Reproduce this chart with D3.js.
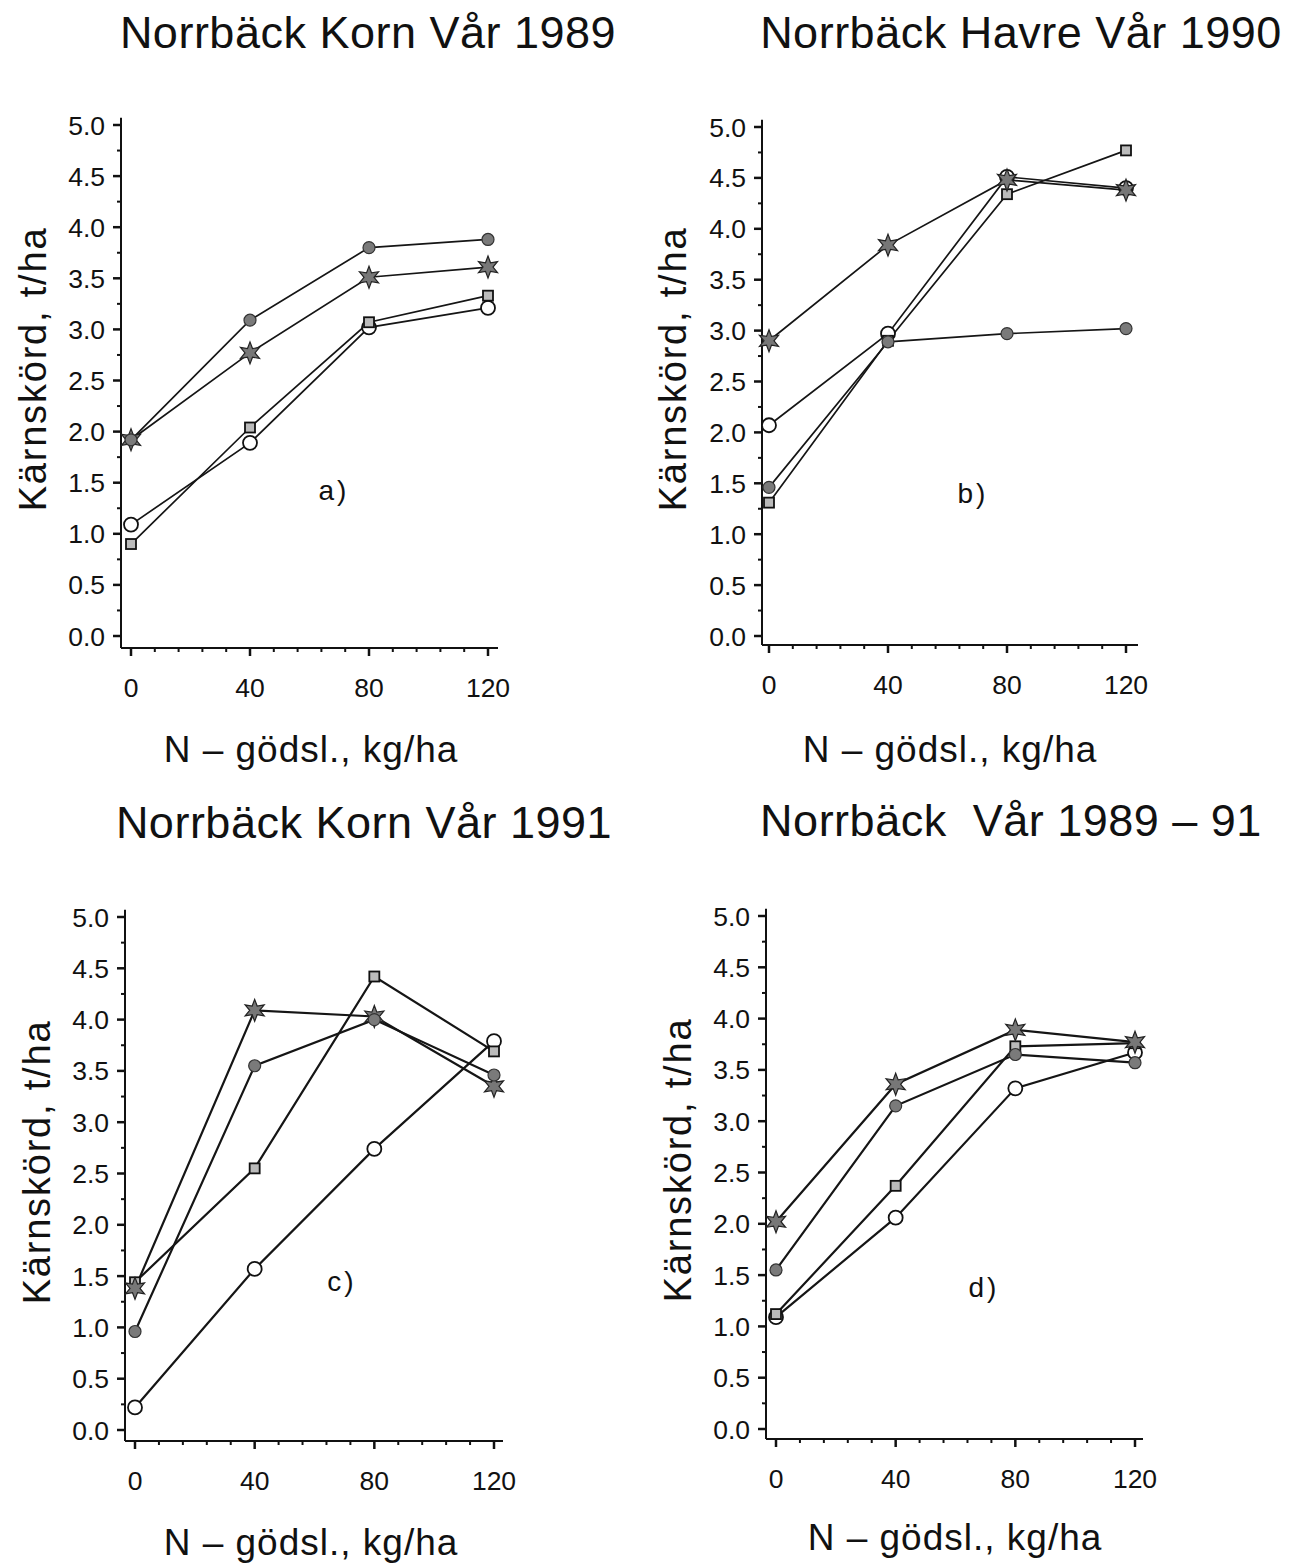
<!DOCTYPE html>
<html>
<head>
<meta charset="utf-8">
<title>Norrbäck kärnskörd</title>
<script src="https://cdn.jsdelivr.net/npm/d3@7"></script>
<style>
  * { margin: 0; padding: 0; }
  body { background: #fff; }
  text { font-family: "Liberation Sans", Arial, sans-serif; fill: #111; white-space: pre; }
</style>
</head>
<body>
<div id="chart"></div>
<script>
// N-giva (kg/ha)
var xValues = [0, 40, 80, 120];
var yTicks = [0, 0.5, 1, 1.5, 2, 2.5, 3, 3.5, 4, 4.5, 5];
var titles = ["Norrbäck Korn Vår 1989", "Norrbäck Havre Vår 1990",
              "Norrbäck Korn Vår 1991", "Norrbäck  Vår 1989 – 91"];
var letters = ["a)", "b)", "c)", "d)"];

// kärnskörd t/ha, ordning: fylld cirkel, stjärna, kvadrat, öppen cirkel
var aFilled = [1.92, 3.09, 3.80, 3.88];
var aStar   = [1.92, 2.77, 3.51, 3.61];
var aSquare = [0.90, 2.04, 3.07, 3.33];
var aOpen   = [1.09, 1.89, 3.02, 3.21];

var bFilled = [1.46, 2.89, 2.97, 3.02];
var bStar   = [2.90, 3.84, 4.48, 4.38];
var bSquare = [1.31, 2.90, 4.34, 4.77];
var bOpen   = [2.07, 2.97, 4.51, 4.40];

var cFilled = [0.96, 3.55, 4.00, 3.46];
var cStar   = [1.38, 4.09, 4.03, 3.35];
var cSquare = [1.44, 2.55, 4.42, 3.69];
var cOpen   = [0.22, 1.57, 2.74, 3.79];

var dFilled = [1.55, 3.15, 3.65, 3.57];
var dStar   = [2.02, 3.36, 3.89, 3.77];
var dSquare = [1.12, 2.37, 3.73, 3.76];
var dOpen   = [1.09, 2.06, 3.32, 3.67];

var panelData = [
  {filled: aFilled, star: aStar, square: aSquare, open: aOpen},
  {filled: bFilled, star: bStar, square: bSquare, open: bOpen},
  {filled: cFilled, star: cStar, square: cSquare, open: cOpen},
  {filled: dFilled, star: dStar, square: dSquare, open: dOpen}
];

// placering av varje delfigur (pixlar)
var layout = [
  {ax: 121, base: 648, x0: 131, x120: 488, y0: 636, y5: 125, xEnd: 498, lw: 1.7,
   title: [368, 48], ylab: [32, 369], xlab: [311, 762], letter: [334, 500]},
  {ax: 762, base: 645, x0: 769, x120: 1126, y0: 636, y5: 127, xEnd: 1138, lw: 1.7,
   title: [1021, 48], ylab: [672, 369], xlab: [950, 762], letter: [973, 503]},
  {ax: 125, base: 1441, x0: 135, x120: 494, y0: 1430, y5: 917, xEnd: 503, lw: 2.2,
   title: [364, 838], ylab: [36, 1162], xlab: [311, 1555], letter: [342, 1291]},
  {ax: 766, base: 1439, x0: 776, x120: 1135, y0: 1429, y5: 916, xEnd: 1143, lw: 2.2,
   title: [1011, 836], ylab: [677, 1160], xlab: [955, 1550], letter: [984, 1297]}
];

var svg = d3.select("#chart").append("svg")
  .attr("width", 1303).attr("height", 1564);

function starPath(ro, ri) {
  var pts = [];
  for (var i = 0; i < 12; i++) {
    var r = i % 2 === 0 ? ro : ri;
    var a = Math.PI / 6 * i - Math.PI / 2;
    pts.push([r * Math.cos(a), r * Math.sin(a)]);
  }
  return "M" + pts.map(function(p){ return p[0].toFixed(2) + "," + p[1].toFixed(2); }).join("L") + "Z";
}

layout.forEach(function(L, i) {
  var g = svg.append("g");
  var x = d3.scaleLinear().domain([0, 120]).range([L.x0, L.x120]);
  var y = d3.scaleLinear().domain([0, 5]).range([L.y0, L.y5]);
  var d = panelData[i];

  // axlar
  g.append("line").attr("x1", L.ax).attr("x2", L.ax)
    .attr("y1", y(5.07)).attr("y2", L.base)
    .attr("stroke", "#111").attr("stroke-width", 2);
  g.append("line").attr("x1", L.ax).attr("x2", L.xEnd)
    .attr("y1", L.base).attr("y2", L.base)
    .attr("stroke", "#111").attr("stroke-width", 2);

  d3.range(0, 121, 8).forEach(function(v) {
    var major = v % 40 === 0;
    g.append("line").attr("x1", x(v)).attr("x2", x(v))
      .attr("y1", L.base).attr("y2", L.base + (major ? 8 : 4))
      .attr("stroke", "#111").attr("stroke-width", major ? 2.5 : 2);
  });
  d3.range(0, 5.01, 0.25).forEach(function(v) {
    var major = Math.abs(v * 2 - Math.round(v * 2)) < 1e-6;
    g.append("line").attr("x1", L.ax).attr("x2", L.ax - (major ? 8 : 4))
      .attr("y1", y(v)).attr("y2", y(v))
      .attr("stroke", "#111").attr("stroke-width", major ? 2.5 : 2);
  });

  g.selectAll(".ytl").data(yTicks).enter().append("text")
    .attr("x", L.ax - 16).attr("y", function(v){ return y(v); })
    .attr("dy", "0.36em").attr("text-anchor", "end")
    .style("font-size", "26.5px").text(function(v){ return v.toFixed(1); });
  g.selectAll(".xtl").data(xValues).enter().append("text")
    .attr("x", function(v){ return x(v); }).attr("y", L.base + 49)
    .attr("text-anchor", "middle").style("font-size", "26.5px")
    .text(function(v){ return v; });

  // rubriker
  g.append("text").attr("x", L.title[0]).attr("y", L.title[1])
    .attr("text-anchor", "middle").style("font-size", "45px").style("letter-spacing", "0.5px")
    .text(titles[i]);
  g.append("text").attr("transform", "translate(" + L.ylab[0] + "," + L.ylab[1] + ") rotate(-90)")
    .attr("text-anchor", "middle").attr("dy", "0.36em")
    .style("font-size", "38px").style("letter-spacing", "1.8px").text("Kärnskörd, t/ha");
  g.append("text").attr("x", L.xlab[0]).attr("y", L.xlab[1])
    .attr("text-anchor", "middle").style("font-size", "37px").style("letter-spacing", "1px")
    .text("N – gödsl., kg/ha");
  g.append("text").attr("x", L.letter[0]).attr("y", L.letter[1])
    .attr("text-anchor", "middle").style("font-size", "28px").style("letter-spacing", "3px")
    .text(letters[i]);

  // linjer
  var line = d3.line().x(function(p){ return x(p[0]); }).y(function(p){ return y(p[1]); });
  function pts(k) { return xValues.map(function(v, j){ return [v, d[k][j]]; }); }
  ["open", "square", "star", "filled"].forEach(function(k) {
    g.append("path").attr("d", line(pts(k))).attr("fill", "none")
      .attr("stroke", "#151515").attr("stroke-width", L.lw);
  });

  // markörer
  g.selectAll(".mo").data(pts("open")).enter().append("circle")
    .attr("cx", function(p){ return x(p[0]); }).attr("cy", function(p){ return y(p[1]); })
    .attr("r", 7).attr("fill", "#fff").attr("stroke", "#111").attr("stroke-width", 1.8);
  g.selectAll(".ms").data(pts("square")).enter().append("rect")
    .attr("x", function(p){ return x(p[0]) - 5; }).attr("y", function(p){ return y(p[1]) - 5; })
    .attr("width", 10).attr("height", 10)
    .attr("fill", "#bbb").attr("stroke", "#111").attr("stroke-width", 1.8);
  g.selectAll(".mst").data(pts("star")).enter().append("path")
    .attr("d", starPath(11, 5))
    .attr("transform", function(p){ return "translate(" + x(p[0]) + "," + y(p[1]) + ")"; })
    .attr("fill", "#777").attr("stroke", "#222").attr("stroke-width", 1.2);
  g.selectAll(".mf").data(pts("filled")).enter().append("circle")
    .attr("cx", function(p){ return x(p[0]); }).attr("cy", function(p){ return y(p[1]); })
    .attr("r", 6).attr("fill", "#7a7a7a").attr("stroke", "#333").attr("stroke-width", 1.2);
});
</script>
</body>
</html>
